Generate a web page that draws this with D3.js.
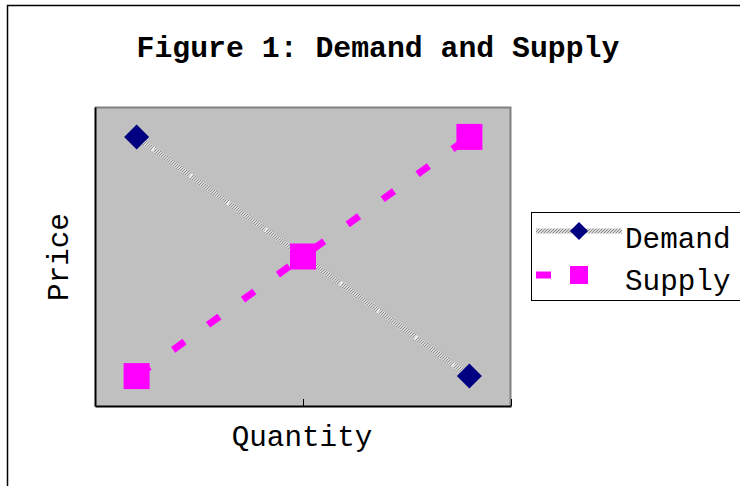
<!DOCTYPE html>
<html><head><meta charset="utf-8">
<script src="https://cdn.jsdelivr.net/npm/d3@7"></script>
<style>html,body{margin:0;padding:0;background:#fff;overflow:hidden}</style>
</head><body>
<svg id="chart" width="740" height="486"></svg>
<script>
const quantity = [1, 2, 3];
const demand = [3, 2, 1];
const supply = [1, 2, 3];
const seriesNames = ["Demand", "Supply"];
const xTicks = [0.75, 2, 3.25];
const title = "Figure 1: Demand and Supply";
const xTitle = "Quantity";
const yTitle = "Price";

const svg = d3.select("#chart");
const font = "'Liberation Mono','Courier New',monospace";
const P = {left: 95, right: 511, top: 107, bottom: 406};

const defs = svg.append("defs");
const pat = defs.append("pattern").attr("id", "hatch").attr("patternUnits", "userSpaceOnUse")
  .attr("width", 3).attr("height", 3);
pat.append("rect").attr("width", 3).attr("height", 3).attr("fill", "#d8d8d8");
pat.append("path").attr("d", "M0,3 L3,0").attr("stroke", "#8c8c8c").attr("stroke-width", 1);

// outer frame
svg.append("path").attr("d", "M7.5,486 L7.5,5.5 L740,5.5").attr("fill", "none")
  .attr("stroke", "#000").attr("stroke-width", 1.5);

const x = d3.scaleLinear().domain([0.75, 3.25]).range([P.left, P.right]);
const y = d3.scaleLinear().domain([0.75, 3.25]).range([P.bottom, P.top]);

// plot area
svg.append("rect").attr("x", P.left).attr("y", P.top).attr("width", P.right - P.left)
  .attr("height", P.bottom - P.top).attr("fill", "#c0c0c0");
svg.append("path").attr("d", `M${P.left},${P.top + 0.5} L${P.right - 0.5},${P.top + 0.5} L${P.right - 0.5},${P.bottom}`)
  .attr("fill", "none").attr("stroke", "#808080").attr("stroke-width", 2);

// axes
const xAxis = svg.append("g").attr("transform", `translate(0,${P.bottom})`)
  .call(d3.axisBottom(x).tickValues(xTicks).tickSizeInner(-7).tickSizeOuter(0).tickFormat(""));
xAxis.select(".domain").attr("stroke", "#000").attr("stroke-width", 2);
xAxis.selectAll(".tick line").attr("stroke", "#000").attr("stroke-width", 1);
const yAxis = svg.append("g").attr("transform", `translate(${P.left},0)`)
  .call(d3.axisLeft(y).tickValues([]).tickSizeOuter(0));
yAxis.select(".domain").attr("stroke", "#000").attr("stroke-width", 2);

const line = d3.line().x(d => x(d[0])).y(d => y(d[1]));
const dPts = quantity.map((q, i) => [q, demand[i]]);
const sPts = quantity.map((q, i) => [q, supply[i]]);

// demand line
svg.append("path").attr("d", line(dPts)).attr("fill", "none").attr("stroke", "url(#hatch)").attr("stroke-width", 5);
svg.append("path").attr("d", line(dPts)).attr("fill", "none").attr("stroke", "#fff")
  .attr("stroke-width", 5).attr("stroke-dasharray", "1.2,45").attr("stroke-dashoffset", -20);
// supply line
svg.append("path").attr("d", line(sPts)).attr("fill", "none").attr("stroke", "#ff00ff")
  .attr("stroke-width", 7).attr("stroke-dasharray", "14,29").attr("stroke-dashoffset", -2);

// markers
const diamond = s => `M0,${-s} L${s},0 L0,${s} L${-s},0 Z`;
svg.append("g").selectAll("path").data(dPts).join("path")
  .attr("transform", d => `translate(${x(d[0])},${y(d[1])})`).attr("d", diamond(12.5)).attr("fill", "#000080");
svg.append("g").selectAll("rect").data(sPts).join("rect")
  .attr("x", d => x(d[0]) - 13).attr("y", d => y(d[1]) - 13).attr("width", 26).attr("height", 26).attr("fill", "#ff00ff");

// titles
svg.append("text").attr("x", 378).attr("y", 57).attr("text-anchor", "middle")
  .attr("font-family", font).attr("font-weight", "bold").attr("font-size", 29.8).text(title);
svg.append("text").attr("x", 302).attr("y", 446).attr("text-anchor", "middle")
  .attr("font-family", font).attr("font-size", 29.3).text(xTitle);
svg.append("text").attr("transform", "translate(68,257) rotate(-90)").attr("text-anchor", "middle")
  .attr("font-family", font).attr("font-size", 29.3).text(yTitle);

// legend
const lg = svg.append("g");
lg.append("rect").attr("x", 531.5).attr("y", 212.5).attr("width", 220).attr("height", 88)
  .attr("fill", "#fff").attr("stroke", "#000").attr("stroke-width", 1);
lg.append("line").attr("x1", 536).attr("x2", 622).attr("y1", 231).attr("y2", 231)
  .attr("stroke", "url(#hatch)").attr("stroke-width", 5);
lg.append("path").attr("transform", "translate(579,231)").attr("d", diamond(9)).attr("fill", "#000080");
lg.append("line").attr("x1", 536).attr("x2", 596).attr("y1", 275).attr("y2", 275)
  .attr("stroke", "#ff00ff").attr("stroke-width", 7).attr("stroke-dasharray", "15,20");
lg.append("rect").attr("x", 570).attr("y", 266).attr("width", 18).attr("height", 18).attr("fill", "#ff00ff");
lg.selectAll("text").data(seriesNames).join("text")
  .attr("x", 625).attr("y", (d, i) => 248 + i * 42)
  .attr("font-family", font).attr("font-size", 29.3).text(d => d);
</script>
</body></html>
